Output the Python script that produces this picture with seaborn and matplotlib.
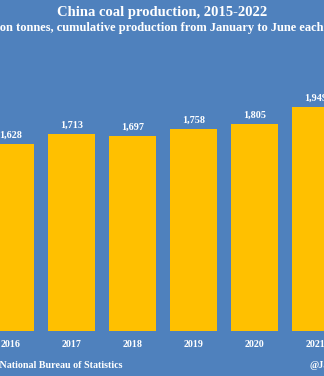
import matplotlib
matplotlib.use("Agg")
import matplotlib.pyplot as plt
import seaborn as sns
import pandas as pd

years = ["2016", "2017", "2018", "2019", "2020", "2021"]
production = [1628, 1713, 1697, 1758, 1805, 1949]
title = "China coal production, 2015-2022"
subtitle = "Million tonnes, cumulative production from January to June each year"
source = "Source: National Bureau of Statistics"
credit = "@JavierBlas"

BG = "#4F81BD"
BAR = "#FFC000"

sns.set_theme(style="white")
plt.rcParams["font.family"] = ["Liberation Serif", "DejaVu Serif"]
plt.rcParams["font.weight"] = "bold"

W, H = 324, 376
fig = plt.figure(figsize=(W / 100, H / 100), dpi=100, facecolor=BG)
top_px, bot_px = 60, 330.7
ax = fig.add_axes([0, (H - bot_px) / H, 1, (bot_px - top_px) / H])
ax.set_facecolor(BG)

df = pd.DataFrame({"year": years, "value": production})
sns.barplot(data=df, x="year", y="value", color=BAR, saturation=1, width=47 / 61,
            linewidth=0, edgecolor=BAR, ax=ax)

ax.set_xlim(-10.5 / 61, (W - 10.5) / 61)
ax.set_ylim(0, (bot_px - top_px) * 8.72)
for c in ax.containers:
    ax.bar_label(c, labels=[f"{v:,.0f}" for v in production], padding=3,
                 color="white", fontsize=7.3, fontweight="bold")

ax.set_xlabel("")
ax.set_ylabel("")
ax.set_yticks([])
ax.tick_params(axis="x", length=0, pad=6.5, labelsize=7.2, labelcolor="white")
for lab in ax.get_xticklabels():
    lab.set_fontweight("bold")
for s in ax.spines.values():
    s.set_visible(False)

fig.text(0.5, 1 - 12.5 / H, title, ha="center", va="center", color="white",
         fontsize=10.5, fontweight="bold")
fig.text(0.5, 1 - 27.5 / H, subtitle, ha="center", va="center", color="white",
         fontsize=9.0, fontweight="bold")
fig.text(123 / W, 1 - 365 / H, source, ha="right", va="center", color="white",
         fontsize=7.2, fontweight="bold")
fig.text(310 / W, 1 - 365 / H, credit, ha="left", va="center", color="white",
         fontsize=7.2, fontweight="bold")

fig.savefig("out.png", dpi=100, facecolor=BG)
